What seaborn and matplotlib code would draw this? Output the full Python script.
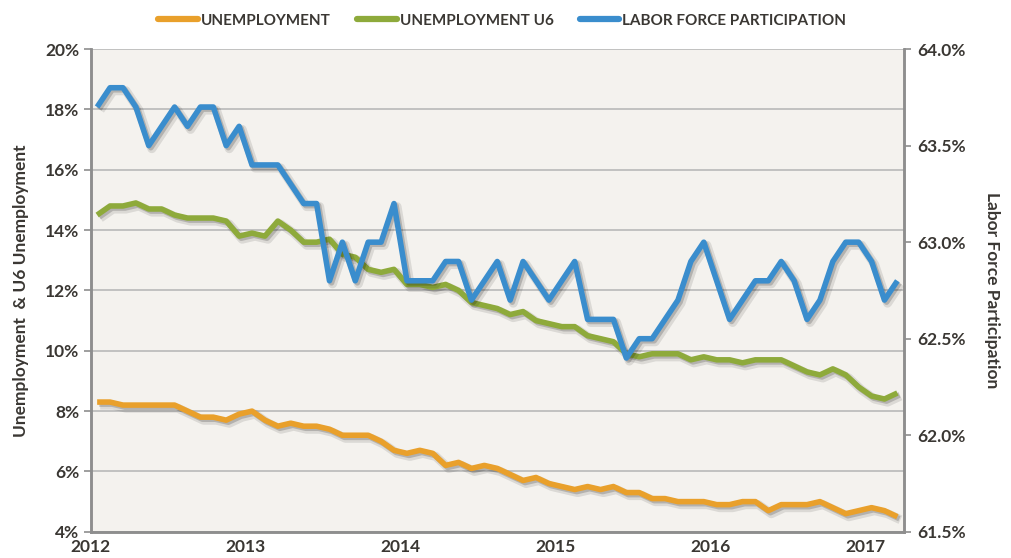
import matplotlib
matplotlib.use("Agg")
import matplotlib.pyplot as plt
import matplotlib.patheffects as pe
from matplotlib.lines import Line2D
from matplotlib.ticker import FixedLocator, MultipleLocator, FuncFormatter
import numpy as np
import pandas as pd
import seaborn as sns

# ─── Data (monthly, Jan 2012 .. Mar 2017) ────────────────────────────────────
years = [2012, 2013, 2014, 2015, 2016, 2017]

unemployment = [
    8.3, 8.3, 8.2, 8.2, 8.2, 8.2, 8.2, 8.0, 7.8, 7.8, 7.7, 7.9,
    8.0, 7.7, 7.5, 7.6, 7.5, 7.5, 7.4, 7.2, 7.2, 7.2, 7.0, 6.7,
    6.6, 6.7, 6.6, 6.2, 6.3, 6.1, 6.2, 6.1, 5.9, 5.7, 5.8, 5.6,
    5.5, 5.4, 5.5, 5.4, 5.5, 5.3, 5.3, 5.1, 5.1, 5.0, 5.0, 5.0,
    4.9, 4.9, 5.0, 5.0, 4.7, 4.9, 4.9, 4.9, 5.0, 4.8, 4.6, 4.7,
    4.8, 4.7, 4.5,
]
unemployment_u6 = [
    14.5, 14.8, 14.8, 14.9, 14.7, 14.7, 14.5, 14.4, 14.4, 14.4, 14.3, 13.8,
    13.9, 13.8, 14.3, 14.0, 13.6, 13.6, 13.7, 13.2, 13.1, 12.7, 12.6, 12.7,
    12.2, 12.2, 12.1, 12.2, 12.0, 11.6, 11.5, 11.4, 11.2, 11.3, 11.0, 10.9,
    10.8, 10.8, 10.5, 10.4, 10.3, 9.9, 9.8, 9.9, 9.9, 9.9, 9.7, 9.8,
    9.7, 9.7, 9.6, 9.7, 9.7, 9.7, 9.5, 9.3, 9.2, 9.4, 9.2, 8.8,
    8.5, 8.4, 8.6,
]
participation = [
    63.7, 63.8, 63.8, 63.7, 63.5, 63.6, 63.7, 63.6, 63.7, 63.7, 63.5, 63.6,
    63.4, 63.4, 63.4, 63.3, 63.2, 63.2, 62.8, 63.0, 62.8, 63.0, 63.0, 63.2,
    62.8, 62.8, 62.8, 62.9, 62.9, 62.7, 62.8, 62.9, 62.7, 62.9, 62.8, 62.7,
    62.8, 62.9, 62.6, 62.6, 62.6, 62.4, 62.5, 62.5, 62.6, 62.7, 62.9, 63.0,
    62.8, 62.6, 62.7, 62.8, 62.8, 62.9, 62.8, 62.6, 62.7, 62.9, 63.0, 63.0,
    62.9, 62.7, 62.8,
]

ORANGE = "#E9A02B"
GREEN = "#8EAA3B"
BLUE = "#3A8DCD"
TEXT = "#3A3733"
AXIS = "#8E8E8E"

# months plotted at the middle of each month slot
month_pos = np.arange(len(unemployment)) + 0.5
df = pd.DataFrame({
    "month": month_pos,
    "unemployment": unemployment,
    "u6": unemployment_u6,
    "participation": participation,
})

# ─── Figure ──────────────────────────────────────────────────────────────────
sns.set_style("white")
plt.rcParams["font.family"] = ["Lato", "DejaVu Sans"]

fig, ax = plt.subplots(figsize=(10.11, 5.58), dpi=100)
fig.subplots_adjust(left=0.0897, right=0.894, top=0.912, bottom=0.047)
ax.set_facecolor("#F4F2EE")

# soft drop shadow: two faint offset copies approximate a blur
shadow = [
    pe.SimpleLineShadow(offset=(2.2, -2.2), shadow_color="#000000", alpha=0.10,
                        linewidth=6.5),
    pe.SimpleLineShadow(offset=(1.5, -1.5), shadow_color="#000000", alpha=0.18),
    pe.Normal(),
]

line_kw = dict(lw=4.0, solid_joinstyle="round", solid_capstyle="butt")
sns.lineplot(data=df, x="month", y="unemployment", ax=ax, color=ORANGE, **line_kw)
sns.lineplot(data=df, x="month", y="u6", ax=ax, color=GREEN, **line_kw)
for ln in ax.lines:
    ln.set_path_effects(shadow)

ax2 = ax.twinx()
sns.lineplot(data=df, x="month", y="participation", ax=ax2, color=BLUE, **line_kw)
for ln in ax2.lines:
    ln.set_path_effects(shadow)

# ─── Axes ────────────────────────────────────────────────────────────────────
n_months = len(unemployment)
ax.set_xlim(0, n_months)
ax.set_ylim(4, 20)
ax2.set_ylim(61.5, 64.0)

ax.yaxis.set_major_locator(MultipleLocator(2))
ax.yaxis.set_major_formatter(FuncFormatter(lambda v, _: f"{v:.0f}%"))
ax2.yaxis.set_major_locator(MultipleLocator(0.5))
ax2.yaxis.set_major_formatter(FuncFormatter(lambda v, _: f"{v:.1f}%"))

year_pos = [12 * k for k in range(len(years))]
ax.xaxis.set_major_locator(FixedLocator(year_pos))
ax.xaxis.set_minor_locator(MultipleLocator(1))
ax.set_xticklabels([str(y) for y in years])

ax.grid(axis="y", color="#BDBDBD", lw=1.3)
ax.set_axisbelow(True)
ax2.grid(False)

for a in (ax, ax2):
    a.spines["top"].set_visible(False)
    for side in ("left", "right", "bottom"):
        a.spines[side].set_color(AXIS)
        a.spines[side].set_linewidth(1.8)

ax.tick_params(axis="y", which="major", direction="out", length=5, width=1.2,
               color=AXIS, labelsize=12.5, labelcolor=TEXT, pad=3)
ax2.tick_params(axis="y", which="major", direction="out", length=5, width=1.2,
                color=AXIS, labelsize=12.5, labelcolor=TEXT, pad=5)
ax.tick_params(axis="x", which="both", direction="out", length=5, width=1.0,
               color=AXIS, labelsize=12.5, labelcolor=TEXT, pad=0)
for lab in ax.get_xticklabels() + ax.get_yticklabels() + ax2.get_yticklabels():
    lab.set_fontweight("bold")

ax.set_xlabel("")
ax.set_ylabel("Unemployment  & U6 Unemployment", fontsize=12.5, color=TEXT,
              fontweight="bold", labelpad=12)
ax2.set_ylabel("Labor Force Participation", fontsize=12.5, color=TEXT,
               fontweight="bold", rotation=270, labelpad=24)

# ─── Legend ──────────────────────────────────────────────────────────────────
handles = [
    Line2D([], [], color=ORANGE, lw=4.5),
    Line2D([], [], color=GREEN, lw=4.5),
    Line2D([], [], color=BLUE, lw=4.5),
]
labels = ["UNEMPLOYMENT", "UNEMPLOYMENT U6", "LABOR FORCE PARTICIPATION"]
leg = fig.legend(handles, labels, loc="upper center", ncol=3, frameon=False,
                 bbox_to_anchor=(0.497, 1.0), handlelength=2.6, handletextpad=0.2,
                 columnspacing=1.7, prop={"size": 11, "weight": "bold"})
for t in leg.get_texts():
    t.set_color(TEXT)

fig.savefig("out.png", dpi=100, facecolor="white")
